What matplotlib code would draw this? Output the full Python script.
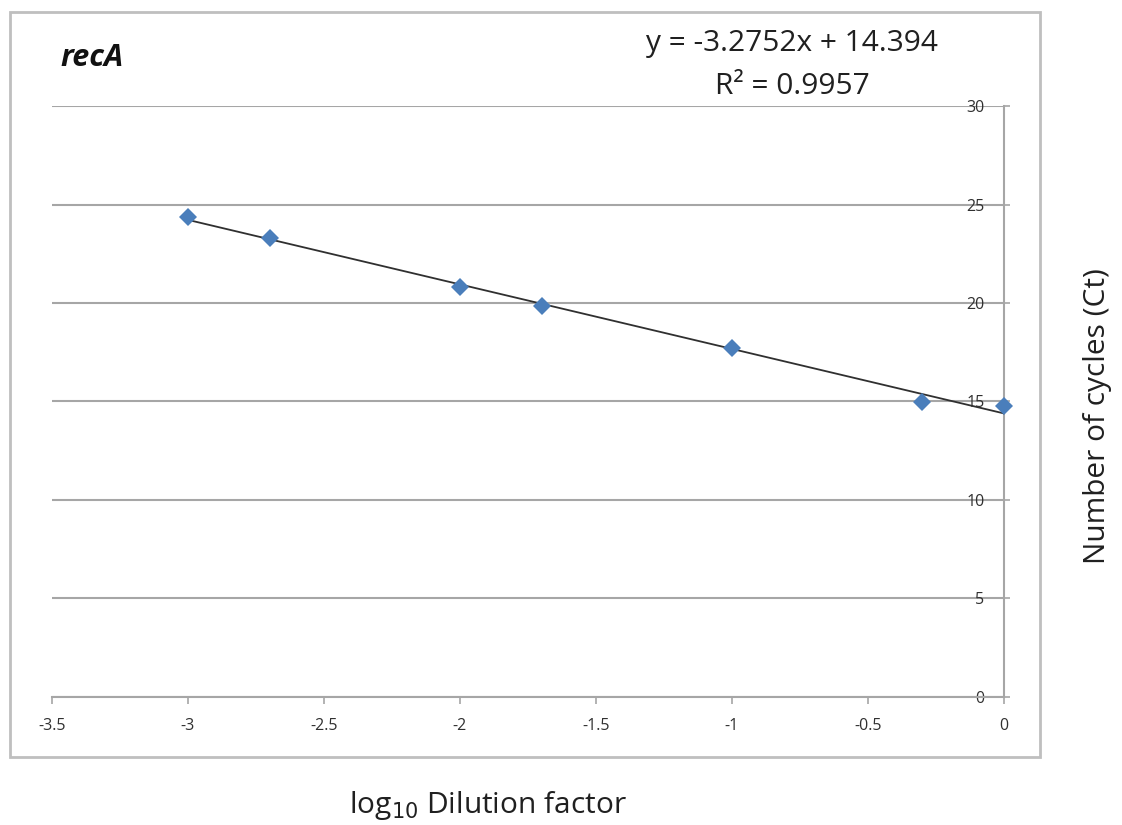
import matplotlib
matplotlib.use("Agg")
import matplotlib.pyplot as plt
from matplotlib.patches import Rectangle
import numpy as np

# Standard curve data for recA
log_dilution = [-3.0, -2.7, -2.0, -1.7, -1.0, -0.3, 0.0]
ct_values = [24.35, 23.3, 20.8, 19.85, 17.7, 14.97, 14.77]

slope = -3.2752
intercept = 14.394
r_squared = 0.9957

x_ticks = [-3.5, -3.0, -2.5, -2.0, -1.5, -1.0, -0.5, 0.0]
x_tick_labels = ["-3.5", "-3", "-2.5", "-2", "-1.5", "-1", "-0.5", "0"]
y_ticks = [0, 5, 10, 15, 20, 25, 30]

plt.rcParams["font.family"] = ["Open Sans", "DejaVu Sans"]

fig = plt.figure(figsize=(11.22, 8.25), dpi=100)
ax = fig.add_axes([0.0463, 0.1552, 0.8485, 0.7163])

grey = "#a6a6a6"

# chart border
fig.patches.append(Rectangle((10 / 1122, 1 - 757 / 825), 1030 / 1122, 745 / 825,
                             transform=fig.transFigure, fill=False,
                             edgecolor="#bfbfbf", linewidth=2))

ax.set_xlim(-3.5, 0)
ax.set_ylim(0, 30)
ax.set_xticks(x_ticks)
ax.set_xticklabels(x_tick_labels)
ax.set_yticks(y_ticks)

ax.yaxis.grid(True, color=grey, linewidth=1.5)
ax.set_axisbelow(True)

for s in ["top", "left"]:
    ax.spines[s].set_visible(False)
for s in ["bottom", "right"]:
    ax.spines[s].set_color(grey)
    ax.spines[s].set_linewidth(1.5)

ax.yaxis.tick_right()
ax.tick_params(axis="x", direction="out", length=5, width=1.2, color=grey,
               labelsize=11.5, pad=10, labelcolor="#303030")
ax.tick_params(axis="y", direction="out", length=4, width=1.2, color=grey,
               labelsize=11.5, pad=-18, labelcolor="#303030")
for lbl in ax.get_yticklabels():
    lbl.set_horizontalalignment("right")

# linear trendline
xs = np.array([min(log_dilution), max(log_dilution)])
ax.plot(xs, slope * xs + intercept, color="#303030", linewidth=1.3, zorder=3)

# measured points
ax.plot(log_dilution, ct_values, linestyle="none", marker="D", markersize=9,
        color="#4a7ebb", markeredgewidth=0, zorder=4, clip_on=False)

# labels
fig.text(60 / 1122, 1 - 58 / 825, "recA", fontsize=22, fontweight="bold",
         fontstyle="italic", va="center", ha="left", color="#111111")
fig.text(792 / 1122, 1 - 44 / 825, f"y = {slope}x + {intercept}", fontsize=21.5,
         ha="center", va="center", color="#202020")
fig.text(792 / 1122, 1 - 86 / 825, f"R² = {r_squared}", fontsize=21.5,
         ha="center", va="center", color="#202020")
fig.text(488 / 1122, 1 - 805 / 825, "log$_{10}$ Dilution factor", fontsize=21.5,
         ha="center", va="center", color="#202020")
fig.text(1098 / 1122, 1 - 416 / 825, "Number of cycles (Ct)", fontsize=21.5,
         ha="center", va="center", rotation=90, color="#202020")

fig.savefig("out.png", dpi=100)
